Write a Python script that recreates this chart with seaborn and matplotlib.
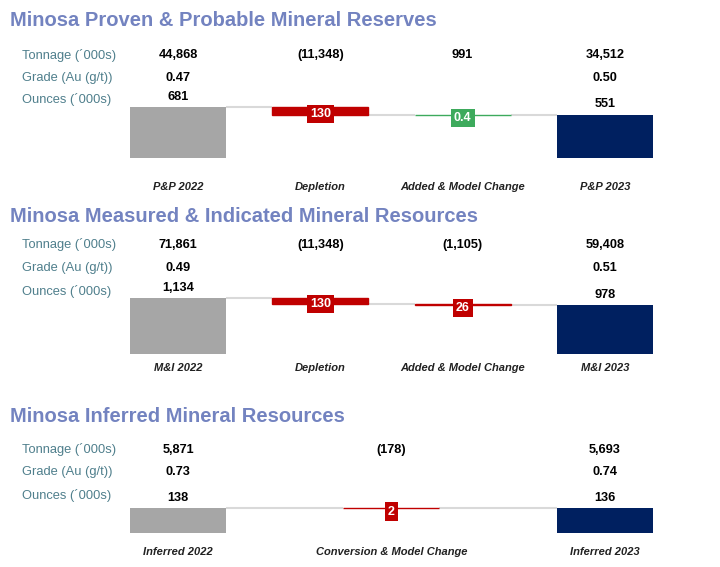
import matplotlib
matplotlib.use("Agg")
import matplotlib.pyplot as plt
import matplotlib.transforms as mtransforms
import seaborn as sns

# --- data -------------------------------------------------------------
pp_cats = ["P&P 2022", "Depletion", "Added & Model Change", "P&P 2023"]
pp_tonnage = [44868, -11348, 991, 34512]
pp_grade = [0.47, None, None, 0.50]
pp_ounces = [681, -130, 0.4, 551]

mi_cats = ["M&I 2022", "Depletion", "Added & Model Change", "M&I 2023"]
mi_tonnage = [71861, -11348, -1105, 59408]
mi_grade = [0.49, None, None, 0.51]
mi_ounces = [1134, -130, -26, 978]

inf_cats = ["Inferred 2022", "Conversion & Model Change", "Inferred 2023"]
inf_tonnage = [5871, -178, 5693]
inf_grade = [0.73, None, 0.74]
inf_ounces = [138, -2, 136]

row_labels = ["Tonnage (´000s)", "Grade (Au (g/t))", "Ounces (´000s)"]

# --- style ------------------------------------------------------------
sns.set_theme(style="white")
plt.rcParams["font.family"] = ["Liberation Sans", "DejaVu Sans"]

TITLE_C = "#7383c0"
LABEL_C = "#4f7f8c"
GREY = "#a6a6a6"
NAVY = "#002060"
RED = "#c00000"
GREEN = "#3daa5c"
CONN = "#d9d9d9"

W, H = 720, 567
fig = plt.figure(figsize=(7.2, 5.67), dpi=100)


def fy(py):
    return 1 - py / H


def fmt_ton(v):
    return f"({abs(v):,.0f})" if v < 0 else f"{v:,.0f}"


def panel(title, cats, tonnage, grade, ounces, xs, title_y, rows_y,
          ax_top, ax_bot, floor, ytop, cat_y):
    fig.text(10 / W, fy(title_y), title, fontsize=14.5,
             fontweight="bold", color=TITLE_C, va="center", ha="left")
    for lab, ry in zip(row_labels, rows_y):
        fig.text(22 / W, fy(ry), lab, fontsize=9.3,
                 color=LABEL_C, va="center", ha="left")

    ax = fig.add_axes([100 / W, fy(ax_bot), 600 / W, (ax_bot - ax_top) / H])
    ax.set_xlim(-0.548, 3.668)
    ax.set_ylim(floor, ytop)
    ax.axis("off")
    tr = mtransforms.blended_transform_factory(ax.transData, fig.transFigure)

    bw = 0.675
    level = ounces[0]
    n = len(cats)
    prev_right, prev_level = None, None
    for i, (x, cat) in enumerate(zip(xs, cats)):
        ax.text(x, fy(rows_y[0]), fmt_ton(tonnage[i]), transform=tr,
                ha="center", va="center", fontsize=9.2, fontweight="bold",
                color="black")
        if grade[i] is not None:
            ax.text(x, fy(rows_y[1]), f"{grade[i]:.2f}", transform=tr,
                    ha="center", va="center", fontsize=9.2,
                    fontweight="bold", color="black")
        ax.text(x, fy(cat_y), cat, transform=tr, ha="center", va="center",
                fontsize=8, fontweight="bold", style="italic", color="#222222")

        if i == 0 or i == n - 1:
            val = ounces[i]
            color = GREY if i == 0 else NAVY
            ax.bar(x, val - floor, bottom=floor, width=bw, color=color,
                   edgecolor="none", zorder=2)
            ax.annotate(f"{val:,.0f}", (x, val), xytext=(0, 3),
                        textcoords="offset points", ha="center", va="bottom",
                        fontsize=9.2, fontweight="bold", color="black",
                        annotation_clip=False)
            top_here = val
        else:
            d = ounces[i]
            new_level = level + d
            color = GREEN if d > 0 else RED
            ax.bar(x, abs(d), bottom=min(level, new_level), width=bw,
                   color=color, edgecolor=color, linewidth=1, zorder=3)
            ax.annotate(f"{abs(d):g}", (x, (level + new_level) / 2),
                        xytext=(0, -2.5), textcoords="offset points",
                        ha="center", va="center", fontsize=9,
                        fontweight="bold", color="white", zorder=4,
                        bbox=dict(boxstyle="square,pad=0.25", fc=color,
                                  ec="none"),
                        annotation_clip=False)
            top_here = level
            level = new_level
        if prev_right is not None:
            ax.plot([prev_right, x - bw / 2], [prev_level, prev_level],
                    color=CONN, lw=1.5, zorder=1, solid_capstyle="butt")
        prev_right = x + bw / 2
        prev_level = ounces[0] if i == 0 else (level if i < n - 1 else top_here)


panel("Minosa Proven & Probable Mineral Reserves", pp_cats, pp_tonnage,
      pp_grade, pp_ounces, [0, 1, 2, 3], 20, [55, 78, 100],
      100, 158, -186, 800, 187)
panel("Minosa Measured & Indicated Mineral Resources", mi_cats, mi_tonnage,
      mi_grade, mi_ounces, [0, 1, 2, 3], 217, [245, 268, 291],
      290, 354, -115, 1312, 368)
panel("Minosa Inferred Mineral Resources", inf_cats, inf_tonnage,
      inf_grade, inf_ounces, [0, 1.5, 3], 417, [450, 472, 496],
      490, 533, 0, 237, 552)

fig.savefig("out.png", dpi=100)
